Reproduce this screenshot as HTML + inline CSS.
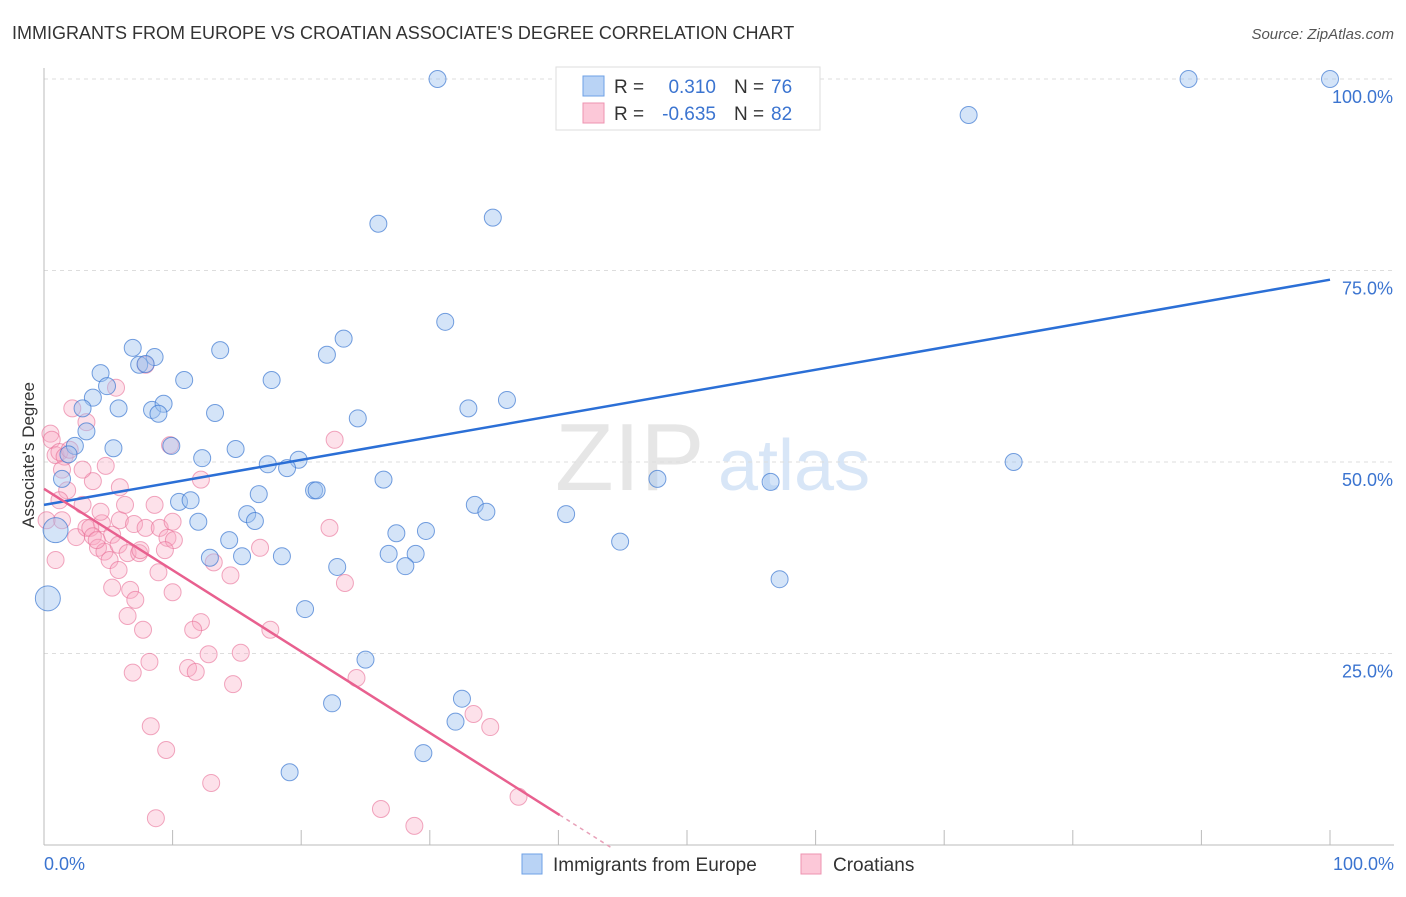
<!DOCTYPE html>
<html><head><meta charset="utf-8"><style>
body{margin:0;background:#fff;font-family:"Liberation Sans",sans-serif;}
svg text{font-family:"Liberation Sans",sans-serif;}
</style></head><body>
<svg id="chart" width="1406" height="892">
<text x="12" y="39" font-size="18" fill="#333">IMMIGRANTS FROM EUROPE VS CROATIAN ASSOCIATE'S DEGREE CORRELATION CHART</text>
<text x="1394" y="39" font-size="15" fill="#555" text-anchor="end" font-style="italic">Source: ZipAtlas.com</text>
<text x="555" y="490" font-size="96" fill="#e6e6e6" font-family="Liberation Serif">ZIP</text>
<text x="718" y="490" font-size="72" fill="#d8e6f7">atlas</text>
<g id="grid"></g><g id="axes"></g><g id="pts"></g><g id="trend"></g>
<text transform="translate(34,455) rotate(-90)" font-size="17" fill="#333" text-anchor="middle">Associate's Degree</text>
<g>
<rect x="556" y="67" width="264" height="63" fill="#fff" stroke="#ddd"/>
<rect x="583" y="76" width="21" height="20" fill="#b9d3f5" stroke="#6ea0e6"/>
<rect x="583" y="103" width="21" height="20" fill="#fcc8d8" stroke="#ee93b0"/>
<text x="614" y="93" font-size="19" fill="#333">R = </text><text x="716" y="93" font-size="19" fill="#3b74d0" text-anchor="end">0.310</text>
<text x="734" y="93" font-size="19" fill="#333">N = </text><text x="771" y="93" font-size="19" fill="#3b74d0">76</text>
<text x="614" y="120" font-size="19" fill="#333">R = </text><text x="716" y="120" font-size="19" fill="#3b74d0" text-anchor="end">-0.635</text>
<text x="734" y="120" font-size="19" fill="#333">N = </text><text x="771" y="120" font-size="19" fill="#3b74d0">82</text>
</g>
<g>
<rect x="522" y="854" width="20" height="20" fill="#b9d3f5" stroke="#6ea0e6"/>
<text x="553" y="871" font-size="19" fill="#333">Immigrants from Europe</text>
<rect x="801" y="854" width="20" height="20" fill="#fcc8d8" stroke="#ee93b0"/>
<text x="833" y="871" font-size="19" fill="#333">Croatians</text>
</g>
</svg>
<script>
const blueX=[30.6,89.0,100,71.9,26.0,34.9,31.2,23.3,22.0,13.7,6.9,8.6,7.4,7.9,4.4,10.9,17.7,4.9,3.8,3.0,5.8,8.4,9.3,8.9,13.3,24.4,33.0,36.0,3.3,2.4,5.4,9.9,14.9,12.3,17.4,19.8,18.9,75.4,1.4,26.4,47.7,56.5,21.0,21.2,16.7,10.5,11.4,33.5,34.4,40.6,15.8,16.4,12.0,14.4,27.4,29.7,44.8,26.8,28.9,15.4,12.9,18.5,28.1,22.8,57.2,0.9,0.3,20.3,25.0,32.5,22.4,32.0,29.5,19.1,1.9];
const blueY=[100,100,100,95.3,81.1,81.9,68.3,66.1,64.0,64.6,64.9,63.7,62.7,62.8,61.6,60.7,60.7,59.9,58.4,57.0,57.0,56.8,57.6,56.3,56.4,55.7,57.0,58.1,54.0,52.1,51.8,52.1,51.7,50.5,49.7,50.3,49.2,50.0,47.8,47.7,47.8,47.4,46.3,46.3,45.8,44.8,45.0,44.4,43.5,43.2,43.2,42.3,42.2,39.8,40.7,41.0,39.6,38.0,38.0,37.7,37.5,37.7,36.4,36.3,34.7,41.1,32.2,30.8,24.2,19.1,18.5,16.1,12.0,9.5,51.0];
const blueBig=[0.9,0.3];
const pinkX=[0.5,0.6,0.9,1.2,1.6,2.0,2.2,3.3,5.6,7.9,9.8,4.8,5.9,3.8,1.8,1.2,1.4,3.0,2.5,3.3,4.5,3.6,3.8,4.2,4.7,5.3,5.9,5.8,6.5,5.1,5.8,7.0,7.4,7.9,8.6,9.0,9.6,10.0,10.1,9.4,7.5,5.3,6.7,6.5,7.1,7.7,8.9,10.0,12.2,12.2,11.6,13.2,14.5,16.8,17.6,15.3,12.8,8.2,6.9,11.2,11.8,14.7,22.2,22.6,23.4,24.3,8.3,9.5,13.0,8.7,26.2,28.8,33.4,34.7,36.9,0.2,0.9,1.4,4.1,3.0,4.4,6.3];
const pinkY=[53.7,52.9,50.9,51.3,50.7,51.6,57.0,55.2,59.7,62.7,52.2,49.5,46.7,47.5,46.3,45.0,42.4,44.4,40.2,41.4,42.0,41.4,40.3,38.8,38.3,40.5,42.4,39.2,38.1,37.2,35.9,41.9,38.1,41.4,44.4,41.4,40.1,42.2,39.8,38.5,38.5,33.6,33.3,29.9,32.0,28.1,35.6,33.0,47.7,29.1,28.1,36.9,35.2,38.8,28.1,25.1,24.9,23.9,22.5,23.1,22.6,21.0,41.4,52.9,34.2,21.8,15.5,12.4,8.1,3.5,4.7,2.5,17.1,15.4,6.3,42.4,37.2,49.0,39.8,49.0,43.5,44.4];
const blueTrend=[44.4,73.8];
const pinkTrend=[46.5,-1.062];
const pinkSolidEnd=40.1, pinkDashEnd=44.1;
const yTicks=[25,50,75,100];
const yTickLabels=["25.0%","50.0%","75.0%","100.0%"];
const xTicks=[0,10,20,30,40,50,60,70,80,90,100];

const NS="http://www.w3.org/2000/svg";
const sx=v=>44+v*12.86, sy=v=>845-v*7.66;
function mk(tag,attrs,parent){const e=document.createElementNS(NS,tag);for(const k in attrs)e.setAttribute(k,attrs[k]);document.getElementById(parent).appendChild(e);return e;}
yTicks.forEach((t,i)=>{
  const g=mk('line',{x1:44,x2:1394,y1:sy(t),y2:sy(t),stroke:'#ddd','stroke-dasharray':'4,4'},'grid');
  
  
  const tx=mk('text',{x:1393,y:sy(t)+24,'font-size':18,fill:'#3b74d0','text-anchor':'end'},'axes');
  tx.textContent=yTickLabels[i];
  
  
});
const ya=mk('line',{x1:44,x2:44,y1:68,y2:845,stroke:'#bbb'},'axes');


const xa=mk('line',{x1:44,x2:1394,y1:845,y2:845,stroke:'#bbb'},'axes');


xTicks.forEach(t=>{
  const l=mk('line',{x1:sx(t),x2:sx(t),y1:830,y2:845,stroke:'#bbb'},'axes');
  
  
});
const x0=mk('text',{x:44,y:870,'font-size':18,fill:'#3b74d0'},'axes');x0.textContent='0.0%';


const x1=mk('text',{x:1394,y:870,'font-size':18,fill:'#3b74d0','text-anchor':'end'},'axes');x1.textContent='100.0%';


pinkX.forEach((x,i)=>{
  const c=mk('circle',{cx:sx(x),cy:sy(pinkY[i]),r:8.5,fill:'rgba(248,170,195,0.35)',stroke:'rgba(232,110,150,0.6)','stroke-width':1},'pts');
  
  
});
blueX.forEach((x,i)=>{
  const r=blueBig.includes(x)&&(blueY[i]<42)?12.5:8.5;
  const c=mk('circle',{cx:sx(x),cy:sy(blueY[i]),r:r,fill:'rgba(160,195,240,0.45)',stroke:'rgba(60,120,210,0.7)','stroke-width':1},'pts');
  
  
});
const bl=mk('line',{x1:sx(0),y1:sy(blueTrend[0]),x2:sx(100),y2:sy(blueTrend[1]),stroke:'#2b6fd6','stroke-width':2.5},'trend');


const pf=x=>pinkTrend[0]+pinkTrend[1]*x;
const pl=mk('line',{x1:sx(0),y1:sy(pf(0)),x2:sx(pinkSolidEnd),y2:sy(pf(pinkSolidEnd)),stroke:'#e8608f','stroke-width':2.5},'trend');


const pd=mk('line',{x1:sx(pinkSolidEnd),y1:sy(pf(pinkSolidEnd)),x2:sx(pinkDashEnd),y2:sy(pf(pinkDashEnd)),stroke:'#e8a0b8','stroke-width':1.5,'stroke-dasharray':'4,4'},'trend');


</script>
</body></html>
